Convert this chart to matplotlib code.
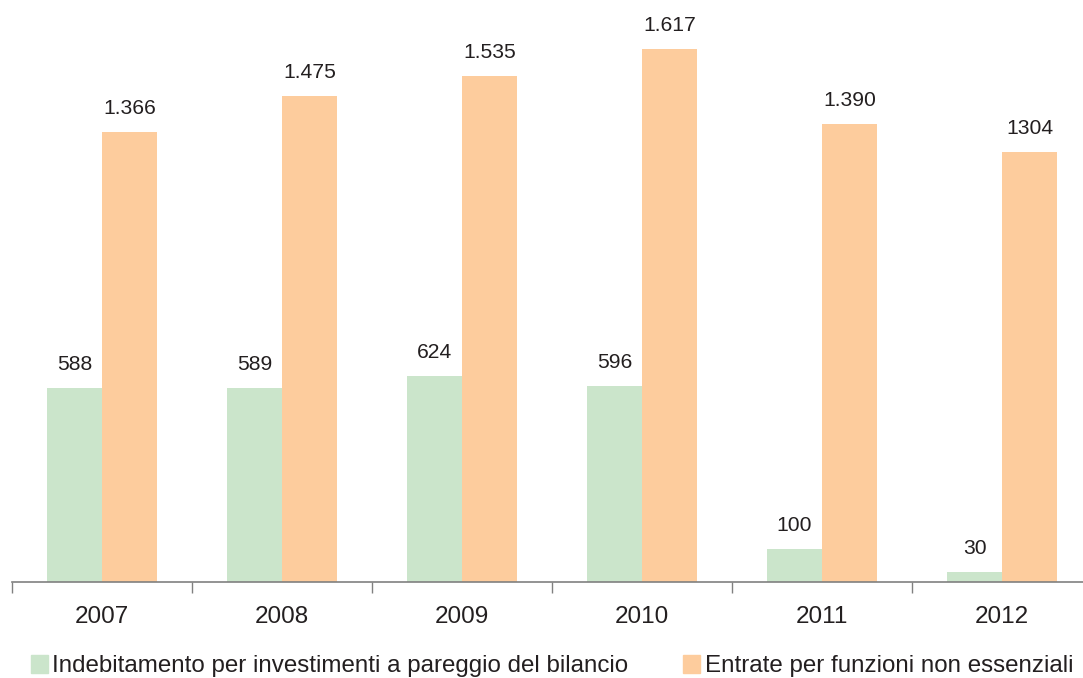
import matplotlib.pyplot as plt
from matplotlib.patches import Patch

plt.rcParams['font.family'] = ['Liberation Sans', 'DejaVu Sans']

years = ["2007", "2008", "2009", "2010", "2011", "2012"]
indebitamento = [588, 589, 624, 596, 100, 30]
entrate = [1366, 1475, 1535, 1617, 1390, 1304]
indebitamento_labels = ["588", "589", "624", "596", "100", "30"]
entrate_labels = ["1.366", "1.475", "1.535", "1.617", "1.390", "1304"]
series_names = ["Indebitamento per investimenti a pareggio del bilancio",
                "Entrate per funzioni non essenziali"]

green = "#cbe5cb"
orange = "#fdcc9d"
text_col = "#231f20"

fig = plt.figure(figsize=(10.83, 6.78), dpi=100)
ax = fig.add_axes([12 / 1083, 96 / 678, 1071 / 1083, 582 / 678])

x = list(range(len(years)))
w = 0.305
b1 = ax.bar([i - w / 2 for i in x], indebitamento, width=w, color=green)
b2 = ax.bar([i + w / 2 for i in x], entrate, width=w, color=orange)

for bars, labels in ((b1, indebitamento_labels), (b2, entrate_labels)):
    for bar, lab in zip(bars, labels):
        ax.annotate(lab, (bar.get_x() + bar.get_width() / 2, bar.get_height()),
                    xytext=(0, 14), textcoords="offset pixels",
                    ha="center", va="bottom", fontsize=15.2, color=text_col)

for s in ("top", "right", "left"):
    ax.spines[s].set_visible(False)
ax.spines["bottom"].set_color("#808080")
ax.spines["bottom"].set_linewidth(1.2)
ax.set_yticks([])

ax.set_xticks(x)
ax.set_xticklabels(years, fontsize=17.5, color=text_col)
ax.tick_params(axis="x", which="major", length=0, pad=17)
ax.set_xticks([i - 0.5 for i in range(len(years) + 1)], minor=True)
ax.tick_params(axis="x", which="minor", length=8, width=1, color="#808080")

# limits after ticks, otherwise set_xticks widens the view
ax.set_xlim(-0.5, 5.45)
ax.set_ylim(0, 1766)

handles = [Patch(color=green), Patch(color=orange)]
fig.legend(handles, series_names, loc="lower left", bbox_to_anchor=(21 / 1083, -9 / 678),
           ncol=2, frameon=False, fontsize=17.4, handlelength=0.7, handleheight=0.75,
           handletextpad=0.2, columnspacing=2.25, labelcolor=text_col, borderaxespad=0)

fig.savefig("out.png", dpi=100)
